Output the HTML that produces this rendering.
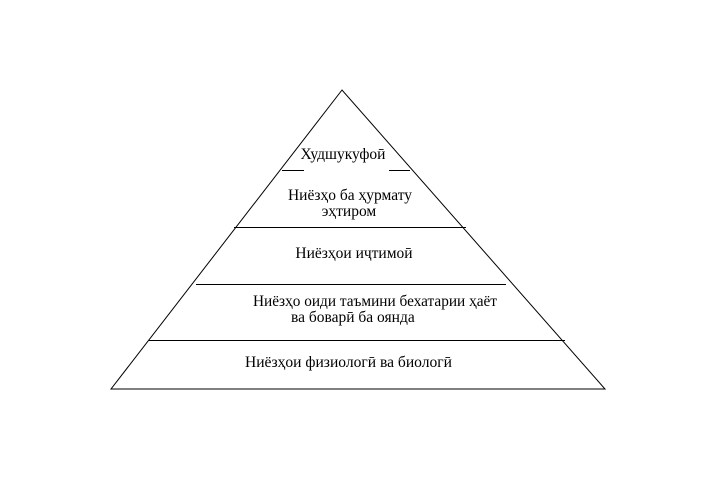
<!DOCTYPE html>
<html><head><meta charset="utf-8"><style>
html,body{margin:0;padding:0;background:#fff;}
svg{display:block}
text{font-family:"Liberation Serif","DejaVu Serif",serif;font-size:15.5px;fill:#000}
</style></head><body>
<svg width="702" height="492" viewBox="0 0 702 492" xmlns="http://www.w3.org/2000/svg">
<g stroke="#000" stroke-width="1" fill="none">
<polygon points="342,90 111,389 605,389"/>
<line x1="282" y1="170.5" x2="304" y2="170.5"/>
<line x1="389" y1="170.5" x2="410" y2="170.5"/>
<line x1="234" y1="227.5" x2="466" y2="227.5"/>
<line x1="196" y1="284.5" x2="506" y2="284.5"/>
<line x1="149" y1="340.5" x2="565" y2="340.5"/>
</g>
<text x="343" y="159" text-anchor="middle">Худшукуфоӣ</text>
<text x="350" y="200" text-anchor="middle">Ниёзҳо ба ҳурмату</text>
<text x="349" y="216" text-anchor="middle">эҳтиром</text>
<text x="354" y="258" text-anchor="middle">Ниёзҳои иҷтимоӣ</text>
<text x="253" y="306" textLength="244" lengthAdjust="spacingAndGlyphs">Ниёзҳо оиди таъмини бехатарии ҳаёт</text>
<text x="291" y="322">ва боварӣ ба оянда</text>
<text x="245" y="367" textLength="207" lengthAdjust="spacingAndGlyphs">Ниёзҳои физиологӣ ва биологӣ</text>
</svg>
</body></html>
